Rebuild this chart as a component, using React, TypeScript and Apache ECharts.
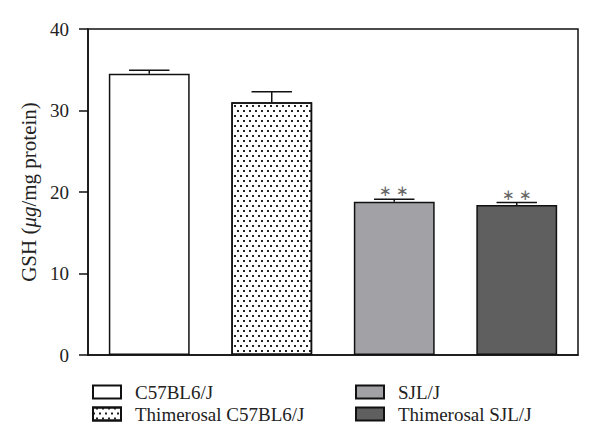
import React, { useEffect, useRef } from "react";
import * as echarts from "echarts";

const categories = ["C57BL6/J", "Thimerosal C57BL6/J", "SJL/J", "Thimerosal SJL/J"];
const means = [34.5, 31.0, 18.8, 18.4];
const sems = [0.45, 1.3, 0.3, 0.3];
const significance = ["", "", "∗ ∗", "∗ ∗"];
const yTicks = [0, 10, 20, 30, 40];

const FONT = "'Liberation Serif', 'Times New Roman', serif";

export default function App() {
  const ref = useRef<HTMLDivElement>(null);
  useEffect(() => {
    if (!ref.current) return;
    const chart = echarts.init(ref.current, null, { renderer: "svg" });
    const fills = ["#ffffff", "#ffffff", "#a2a2a6", "#5f5f5f"];
    const barSeries = categories.map((name, k) => ({
      name,
      type: "bar",
      barWidth: "66%",
      barGap: "-100%",
      data: means.map((v, i) => (i === k ? v : "-")),
      itemStyle: {
        color: fills[k],
        borderColor: "#111",
        borderWidth: 1.5,
        decal:
          k === 1
            ? {
                symbol: "rect",
                symbolSize: 1,
                color: "#222",
                backgroundColor: "#ffffff",
                dashArrayX: [
                  [1.5, 3.5],
                  [0, 2.5, 1.5, 1],
                ],
                dashArrayY: [1.5, 2.5],
                rotation: 0,
              }
            : "none",
      },
    }));
    const errData = means.map((v, i) => [i, v, v + sems[i], significance[i]]);
    const legendBase = {
      orient: "vertical",
      icon: "rect",
      itemWidth: 28,
      itemHeight: 13,
      itemGap: 2,
      top: 377,
      textStyle: {
        fontFamily: FONT,
        fontSize: 19,
        lineHeight: 20,
        color: "#222",
        padding: [0, 0, 0, 9],
      },
    };
    const option: any = {
      animation: false,
      aria: { enabled: false, decal: { show: true } },
      grid: {
        left: 88,
        right: 22,
        top: 29,
        bottom: 89,
        show: true,
        borderColor: "#111",
        borderWidth: 1.5,
        backgroundColor: "transparent",
      },
      xAxis: {
        type: "category",
        data: categories,
        axisLabel: { show: false },
        axisTick: { show: false },
        axisLine: { lineStyle: { color: "#111", width: 1.5 } },
      },
      yAxis: {
        type: "value",
        min: yTicks[0],
        max: yTicks[yTicks.length - 1],
        interval: 10,
        splitLine: { show: false },
        axisLine: { show: true, lineStyle: { color: "#111", width: 1.5 } },
        axisTick: { show: true, inside: false, length: 9, lineStyle: { color: "#111", width: 1.5 } },
        axisLabel: { margin: 19, fontFamily: FONT, fontSize: 19, color: "#222" },
        name: "GSH ({i|μg}/mg protein)",
        nameLocation: "middle",
        nameGap: 48,
        nameTextStyle: {
          fontFamily: FONT,
          fontSize: 21,
          color: "#222",
          rich: { i: { fontFamily: FONT, fontSize: 21, fontStyle: "italic", color: "#222" } },
        },
      },
      legend: [
        { ...legendBase, left: 87, data: [categories[0], categories[1]] },
        { ...legendBase, left: 350, data: [categories[2], categories[3]] },
      ],
      series: [
        ...barSeries,
        {
          type: "custom",
          name: "err",
          data: errData,
          encode: { x: 0, y: [1, 2] },
          z: 5,
          renderItem: (params: any, api: any) => {
            const i = api.value(0);
            const base = api.coord([i, api.value(1)]);
            const top = api.coord([i, api.value(2)]);
            const half = api.size([1, 0])[0] * 0.165;
            const sig = errData[params.dataIndex][3] as string;
            const children: any[] = [
              {
                type: "line",
                shape: { x1: base[0], y1: base[1], x2: top[0], y2: top[1] },
                style: { stroke: "#111", lineWidth: 1.5 },
              },
              {
                type: "line",
                shape: { x1: top[0] - half, y1: top[1], x2: top[0] + half, y2: top[1] },
                style: { stroke: "#111", lineWidth: 1.5 },
              },
            ];
            if (sig) {
              children.push({
                type: "text",
                x: top[0],
                y: top[1] - 8,
                style: {
                  text: sig,
                  fontFamily: FONT,
                  fontSize: 15,
                  fill: "#666",
                  textAlign: "center",
                  textVerticalAlign: "middle",
                },
              });
            }
            return { type: "group", children };
          },
        },
      ],
    };
    chart.setOption(option);
    return () => chart.dispose();
  }, []);
  return (
    <div
      ref={ref}
      style={{ position: "absolute", left: 0, top: 0, width: 600, height: 444 }}
    />
  );
}
